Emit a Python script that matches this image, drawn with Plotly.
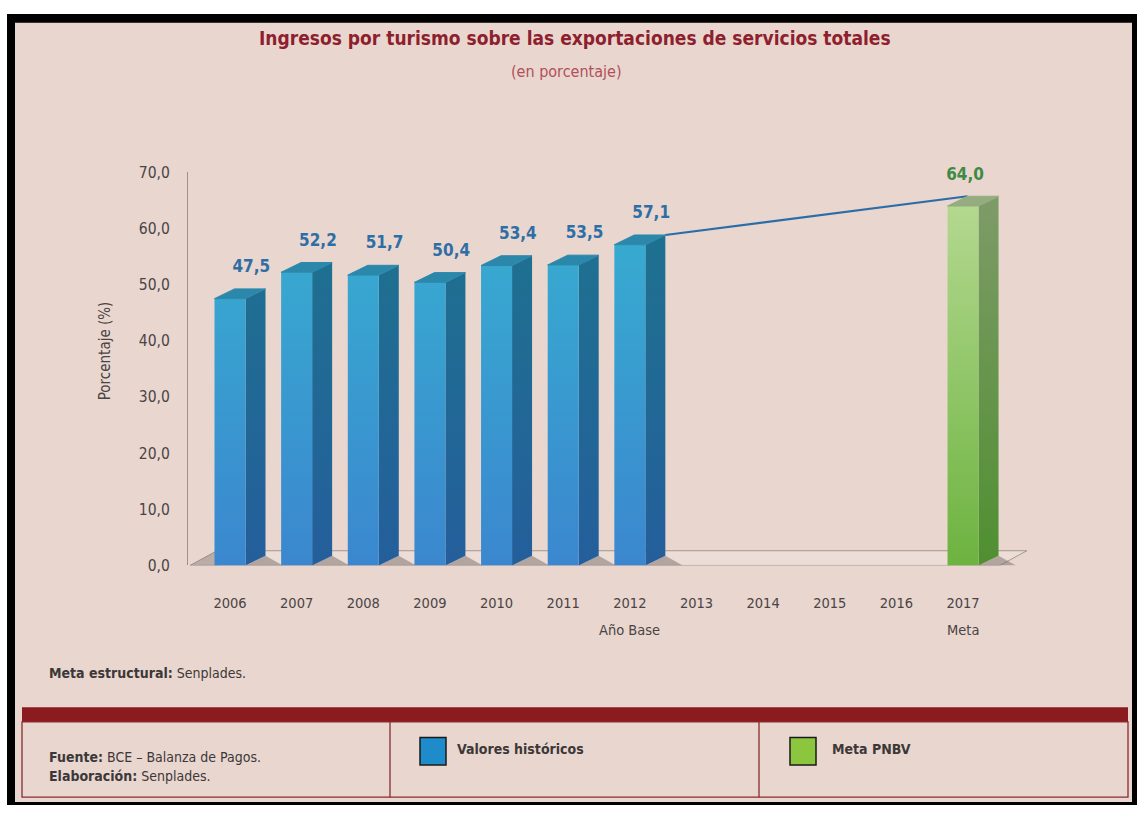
import plotly.graph_objects as go

# ---------------- data ----------------
years = ["2006", "2007", "2008", "2009", "2010", "2011",
         "2012", "2013", "2014", "2015", "2016", "2017"]
hist_years = ["2006", "2007", "2008", "2009", "2010", "2011", "2012"]
hist_values = [47.5, 52.2, 51.7, 50.4, 53.4, 53.5, 57.1]
goal_years = ["2017"]
goal_values = [64.0]
y_ticks = [0, 10, 20, 30, 40, 50, 60, 70]
year_notes = {"2012": "Año Base", "2017": "Meta"}

title = "Ingresos por turismo sobre las exportaciones de servicios totales"
subtitle = "(en porcentaje)"

# ---------------- page geometry (pixels) ----------------
W, H = 1137, 814
AX_LEFT, AX_RIGHT = 188, 1030      # x-axis domain
AX_TOP, AX_BOTTOM = 167, 569       # y-axis domain (70 -> 0)
FIRST_CAT_PX = 230                 # centre of first category
PX_PER_CAT = 66.64
PX_PER_UNIT = (AX_BOTTOM - AX_TOP) / 70.0

x_lo = -(FIRST_CAT_PX - AX_LEFT) / PX_PER_CAT
x_hi = (AX_RIGHT - FIRST_CAT_PX) / PX_PER_CAT

# pseudo-3D bar geometry, in axis units
BAR_W = 31 / PX_PER_CAT
DX = 20 / PX_PER_CAT
DY = 10 / PX_PER_UNIT
FLOOR_DX = 27 / PX_PER_CAT
FLOOR_DY = 15 / PX_PER_UNIT

NARROW = "Liberation Sans Narrow, DejaVu Sans Condensed, Arial Narrow, sans-serif"
BG = "#E9D6CF"
DARK_RED = "#8C1B20"
TXT = "#3C3838"
AXIS_TXT = "#4A4444"


def px(x):
    return x / W


def py(y):
    return 1 - y / H


def pos(year):
    return years.index(year)


def bar_polys(cats, values):
    """Front, side, top and floor-shadow polygons for each bar."""
    out = {k: ([], []) for k in ("front", "side", "top", "shadow")}
    for c, v in zip(cats, values):
        x = pos(c)
        l, r = x - BAR_W / 2, x + BAR_W / 2
        polys = {
            "front": ([l, r, r, l, l], [0, 0, v, v, 0]),
            "side": ([r, r + DX, r + DX, r, r], [0, DY, v + DY, v, 0]),
            "top": ([l, r, r + DX, l + DX, l], [v, v, v + DY, v + DY, v]),
            "shadow": ([r, r + DX, r + DX + 0.26, r], [0, DY, 0, 0]),
        }
        for k, (xs, ys) in polys.items():
            out[k][0].extend(xs + [None])
            out[k][1].extend(ys + [None])
    return out


fig = go.Figure()

# floor slab
floor_l = x_lo + 0.03
floor_r = pos("2017") + BAR_W / 2 + DX + 0.02
fig.add_trace(go.Scatter(
    x=[floor_l, floor_r, floor_r + FLOOR_DX, floor_l + FLOOR_DX, floor_l],
    y=[0, 0, FLOOR_DY, FLOOR_DY, 0],
    mode="lines", fill="toself", fillcolor="rgba(255,255,255,0.18)",
    line=dict(color="#A39692", width=1), hoverinfo="skip", showlegend=False))
fig.add_trace(go.Scatter(
    x=[floor_l, floor_l + FLOOR_DX, floor_l + FLOOR_DX + 0.05, floor_l],
    y=[0, FLOOR_DY, 0, 0],
    mode="lines", fill="toself", fillcolor="rgba(125,112,108,0.45)",
    line=dict(width=0), hoverinfo="skip", showlegend=False))


def add_bars(cats, values, front, side, top, shadow, name):
    p = bar_polys(cats, values)
    vmax = max(values) + DY
    fig.add_trace(go.Scatter(
        x=p["shadow"][0], y=p["shadow"][1], mode="lines", fill="toself",
        fillcolor=shadow, line=dict(width=0), hoverinfo="skip",
        showlegend=False))
    fig.add_trace(go.Scatter(
        x=p["side"][0], y=p["side"][1], mode="lines", fill="toself",
        fillgradient=dict(type="vertical", colorscale=[[0, side[0]], [1, side[1]]],
                          start=0, stop=vmax),
        line=dict(width=0), hoverinfo="skip", showlegend=False))
    fig.add_trace(go.Scatter(
        x=p["front"][0], y=p["front"][1], mode="lines", fill="toself",
        fillgradient=dict(type="vertical", colorscale=[[0, front[0]], [1, front[1]]],
                          start=0, stop=vmax),
        line=dict(width=0), name=name, hoverinfo="skip", showlegend=False))
    fig.add_trace(go.Scatter(
        x=p["top"][0], y=p["top"][1], mode="lines", fill="toself",
        fillcolor=top, line=dict(color=top, width=1), hoverinfo="skip",
        showlegend=False))


add_bars(hist_years, hist_values,
         front=("#3B86CF", "#37ABD0"), side=("#245E9C", "#1E7190"),
         top="#2C88AB", shadow="rgba(120,108,104,0.5)", name="Valores históricos")

# trend from the base year to the goal
fig.add_trace(go.Scatter(
    x=[pos(hist_years[-1]) + BAR_W / 2 + DX, pos(goal_years[0]) - BAR_W / 2 + DX],
    y=[hist_values[-1] + DY, goal_values[0] + DY],
    mode="lines", line=dict(color="#2A6DA8", width=2.2),
    hoverinfo="skip", showlegend=False))

add_bars(goal_years, goal_values,
         front=("#6BB23E", "#B5D991"), side=("#4E8F2F", "#7E9B68"),
         top="#95AC80", shadow="rgba(120,108,104,0.5)", name="Meta PNBV")

# value labels
fig.add_trace(go.Scatter(
    x=[pos(c) + 0.32 for c in hist_years], y=[v + 5.5 for v in hist_values],
    customdata=hist_values, mode="text", texttemplate="<b>%{customdata:.1f}</b>",
    textfont=dict(family=NARROW, size=17, color="#2F6EA5"),
    cliponaxis=False, hoverinfo="skip", showlegend=False))
fig.add_trace(go.Scatter(
    x=[pos(c) + 0.03 for c in goal_years], y=[v + 5.3 for v in goal_values],
    customdata=goal_values, mode="text", texttemplate="<b>%{customdata:.1f}</b>",
    textfont=dict(family=NARROW, size=17, color="#3C8A44"),
    cliponaxis=False, hoverinfo="skip", showlegend=False))

fig.update_xaxes(
    domain=[px(AX_LEFT), px(AX_RIGHT)], range=[x_lo, x_hi],
    tickmode="array", tickvals=list(range(len(years))), ticktext=years,
    tickfont=dict(family=NARROW, size=14.5, color=AXIS_TXT),
    ticks="", ticklabelstandoff=27,
    showgrid=False, zeroline=False, showline=False, fixedrange=True)
fig.update_yaxes(
    domain=[py(AX_BOTTOM), py(AX_TOP)], range=[0, 70],
    tickmode="array", tickvals=y_ticks, tickformat=".1f",
    tickfont=dict(family=NARROW, size=15.5, color=AXIS_TXT),
    ticks="", ticklabelstandoff=14,
    showline=True, linecolor="#9C918D", linewidth=1,
    showgrid=False, zeroline=False, fixedrange=True)

shapes = [
    dict(type="rect", xref="paper", yref="paper", x0=px(7), x1=1.0, y0=0, y1=py(5),
         fillcolor="black", line=dict(width=0), layer="below"),
    dict(type="rect", xref="paper", yref="paper", x0=px(15), x1=px(1132),
         y0=py(811), y1=py(14), fillcolor=BG, line=dict(width=0), layer="below"),
    dict(type="rect", xref="paper", yref="paper", x0=px(22), x1=px(1128),
         y0=py(729), y1=py(714), fillcolor=DARK_RED, line=dict(width=0)),
    dict(type="rect", xref="paper", yref="paper", x0=px(22), x1=px(1128),
         y0=py(806), y1=py(729), line=dict(color="#8A2B30", width=1.3)),
    dict(type="line", xref="paper", yref="paper", x0=px(390), x1=px(390),
         y0=py(806), y1=py(729), line=dict(color="#8A2B30", width=1.3)),
    dict(type="line", xref="paper", yref="paper", x0=px(759), x1=px(759),
         y0=py(806), y1=py(729), line=dict(color="#8A2B30", width=1.3)),
    dict(type="rect", xref="paper", yref="paper", x0=px(420), x1=px(446),
         y0=py(773), y1=py(745), fillcolor="#1E8BCB", line=dict(color="#1A1A1A", width=1.5)),
    dict(type="rect", xref="paper", yref="paper", x0=px(790), x1=px(816),
         y0=py(773), y1=py(745), fillcolor="#8CC63F", line=dict(color="#1A1A1A", width=1.5)),
]


def note(text, x, y, size, color=TXT, anchor="left", xref="paper", angle=0):
    return dict(text=text, x=x, y=py(y), xref=xref, yref="paper",
                xanchor=anchor, yanchor="middle", showarrow=False, textangle=angle,
                font=dict(family=NARROW, size=size, color=color))


annotations = [
    note(f"<b>{title}</b>", px(575), 30, 19, "#8E1F2E", "center"),
    note(subtitle, px(566), 64, 16, "#B0505A", "center"),
    note("Porcentaje (%)", px(105), 350, 15, AXIS_TXT, "center", angle=-90),
    note("<b>Meta estructural:</b> Senplades.", px(47), 679, 14),
    note("<b>Fuente:</b> BCE – Balanza de Pagos.", px(47), 765, 14),
    note("<b>Elaboración:</b> Senplades.", px(47), 784, 14),
    note("<b>Valores históricos</b>", px(455), 757, 14),
    note("<b>Meta PNBV</b>", px(830), 757, 14),
]
for yr, txt in year_notes.items():
    annotations.append(note(txt, pos(yr), 635, 14.5, AXIS_TXT, "center", xref="x"))

fig.update_layout(
    width=W, height=H, margin=dict(l=0, r=0, t=0, b=0),
    paper_bgcolor="white", plot_bgcolor="rgba(0,0,0,0)",
    separators=",.", showlegend=False,
    font=dict(family=NARROW, color=AXIS_TXT),
    shapes=shapes, annotations=annotations)

fig.write_html("out.html")
